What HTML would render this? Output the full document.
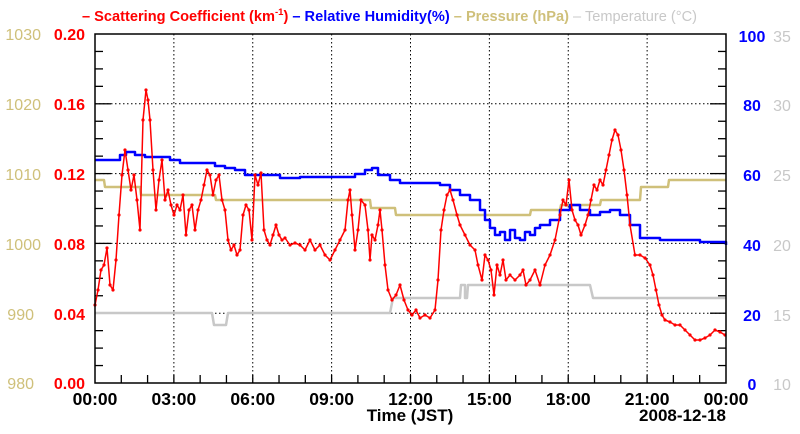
<!DOCTYPE html>
<html><head><meta charset="utf-8"><style>
body{margin:0;background:#fff}
svg{display:block;font-family:"Liberation Sans",Arial,sans-serif;font-weight:bold}
</style></head><body>
<svg id="s" width="800" height="434" viewBox="0 0 800 434">
<g id="grid" stroke="#000" stroke-width="1" stroke-dasharray="1.5,2.5"></g>
<g id="ticks" stroke="#000" stroke-width="1.3"></g>
<g id="series"></g>
<rect x="95" y="34" width="631" height="349" fill="none" stroke="#000" stroke-width="1.5"/>
<g font-size="16" text-anchor="end">
<text x="41" y="40" fill="#cfc07a" font-weight="normal">1030</text>
<text x="41" y="110" fill="#cfc07a" font-weight="normal">1020</text>
<text x="41" y="180" fill="#cfc07a" font-weight="normal">1010</text>
<text x="41" y="250" fill="#cfc07a" font-weight="normal">1000</text>
<text x="34" y="320" fill="#cfc07a" font-weight="normal">990</text>
<text x="34" y="389" fill="#cfc07a" font-weight="normal">980</text>
<text x="85" y="40" fill="#f00">0.20</text>
<text x="85" y="110" fill="#f00">0.16</text>
<text x="85" y="180" fill="#f00">0.12</text>
<text x="85" y="250" fill="#f00">0.08</text>
<text x="85" y="320" fill="#f00">0.04</text>
<text x="85" y="389" fill="#f00">0.00</text>
</g>
<g font-size="16" text-anchor="middle">
<text x="752" y="42" fill="#00f">100</text>
<text x="752" y="111" fill="#00f">80</text>
<text x="752" y="181" fill="#00f">60</text>
<text x="752" y="251" fill="#00f">40</text>
<text x="752" y="321" fill="#00f">20</text>
<text x="752" y="390" fill="#00f">0</text>
<g fill="#c8c8c8" font-weight="normal">
<text x="782" y="42">35</text><text x="782" y="111">30</text><text x="782" y="181">25</text>
<text x="782" y="251">20</text><text x="782" y="321">15</text><text x="782" y="390">10</text></g>
</g>
<g font-size="17.5" text-anchor="middle" fill="#000" id="xl"></g>
<text x="410" y="421" font-size="17" text-anchor="middle">Time (JST)</text>
<text x="726" y="421" font-size="17" text-anchor="end">2008-12-18</text>
<text x="82" y="21" font-size="14.6"><tspan fill="#f00">– Scattering Coefficient (km</tspan><tspan fill="#f00" font-size="9.5" dy="-6">-1</tspan><tspan fill="#f00" dy="6">) </tspan><tspan fill="#00f">– Relative Humidity(%) </tspan><tspan fill="#cfc07a">– Pressure (hPa) </tspan><tspan fill="#c8c8c8" font-weight="normal">– Temperature (°C)</tspan></text>
</svg>
<script>
var NS="http://www.w3.org/2000/svg";
function el(p,t,a){var e=document.createElementNS(NS,t);for(var k in a)e.setAttribute(k,a[k]);p.appendChild(e);return e;}
var g=document.getElementById('grid'),tk=document.getElementById('ticks'),xl=document.getElementById('xl');
var labs=["00:00","03:00","06:00","09:00","12:00","15:00","18:00","21:00","00:00"];
for(var i=0;i<=8;i++){var x=95+i*78.875;if(i>0&&i<8)el(g,'line',{x1:x,y1:34,x2:x,y2:383});
 var t=el(xl,'text',{x:x,y:405});t.textContent=labs[i];}
for(var i=1;i<5;i++){var y=383-i*69.8;el(g,'line',{x1:95,y1:y,x2:726,y2:y});}
for(var i=1;i<24;i++){var x=95+i*26.29;el(tk,'line',{x1:x,y1:383,x2:x,y2:375});}
for(var i=1;i<20;i++){var y=383-i*17.45;var L=(i%4==0)?16:8;el(tk,'line',{x1:95,y1:y,x2:95+L,y2:y});el(tk,'line',{x1:726,y1:y,x2:726-L,y2:y});}
var S=document.getElementById('series');
function pl(pts,c,w){el(S,'polyline',{points:pts.map(function(p){return p.join(',')}).join(' '),fill:'none',stroke:c,'stroke-width':w,'stroke-linejoin':'round'});}
function steps(segs){var p=[];segs.forEach(function(s){p.push([s[0],s[2]]);p.push([s[1],s[2]]);});return p;}
pl(steps([[95,212,313],[214,226,325],[228,390,313],[393,460,298],[461,465,285],[465,467,298],[468,590,285],[593,726,298]]),'#c8c8c8',2.5);
pl(steps([[95,104,180],[105,140,187],[141,215,195],[216,370,200],[371,395,208],[396,530,215],[531,560,210],[561,600,205],[601,640,200],[641,668,187],[669,726,180]]),'#cfc07a',2.5);
var rh=[[95,160],[118,160],[120,155],[126,152],[135,155],[145,157],[170,160],[180,163],[200,163],[215,166],[225,168],[235,170],[245,175],[260,175],[280,178],[300,177],[340,177],[355,174],[365,170],[372,168],[378,175],[390,180],[400,183],[420,183],[440,185],[450,190],[460,195],[470,200],[480,210],[485,220],[490,228],[495,235],[500,232],[505,240],[510,230],[515,238],[520,240],[525,232],[530,235],[535,228],[540,225],[550,220],[560,210],[570,205],[580,210],[590,215],[600,212],[610,210],[620,215],[630,225],[640,238],[660,240],[680,240],[700,242],[726,245]];
var rs=[];rh.forEach(function(p,i){if(i>0)rs.push([p[0],rh[i-1][1]]);rs.push(p);});
pl(rs,'#00f',2.5);
var sc=[[95,305],[98,290],[101,270],[104,265],[107,248],[110,285],[113,290],[116,260],[119,215],[122,175],[125,150],[128,170],[131,190],[134,175],[137,200],[140,230],[143,120],[146,90],[148,100],[150,120],[153,170],[156,210],[159,180],[162,160],[165,200],[168,190],[171,205],[174,215],[177,205],[180,210],[183,195],[186,235],[189,210],[192,205],[195,230],[198,210],[201,200],[204,185],[207,170],[210,175],[213,195],[216,180],[219,175],[222,200],[225,210],[228,240],[231,250],[234,245],[237,255],[240,250],[243,215],[246,205],[249,210],[252,240],[255,175],[258,185],[261,173],[264,230],[267,240],[270,245],[273,235],[276,225],[279,235],[282,240],[285,238],[290,245],[295,243],[300,245],[305,250],[310,240],[315,250],[320,245],[325,255],[330,260],[335,250],[340,240],[345,230],[348,200],[350,190],[352,215],[355,250],[358,230],[361,200],[365,205],[368,230],[370,260],[372,235],[375,240],[378,225],[380,210],[382,230],[385,265],[388,290],[392,300],[396,295],[400,285],[404,300],[408,310],[412,315],[416,310],[420,318],[425,315],[430,318],[435,310],[438,280],[441,230],[444,210],[447,195],[450,190],[453,200],[457,215],[460,225],[465,235],[470,245],[475,250],[478,265],[482,280],[485,255],[488,260],[491,270],[494,295],[497,265],[500,275],[503,260],[506,280],[510,275],[515,280],[520,275],[523,270],[526,285],[530,280],[535,270],[540,285],[545,265],[550,255],[555,240],[560,215],[563,200],[566,205],[569,180],[572,210],[575,220],[578,225],[581,235],[585,225],[588,215],[591,200],[594,185],[597,190],[600,180],[603,185],[606,170],[609,155],[612,140],[615,130],[618,135],[621,150],[624,170],[627,195],[630,225],[635,255],[640,255],[645,258],[650,265],[653,275],[656,290],[659,305],[662,315],[665,320],[670,322],[675,325],[680,325],[685,330],[690,335],[695,340],[700,340],[705,338],[710,335],[715,330],[720,332],[725,335]];
pl(sc,'#f00',1.5);
sc.forEach(function(p){el(S,'circle',{cx:p[0],cy:p[1],r:1.6,fill:'#f00'});});
</script>
</body></html>
